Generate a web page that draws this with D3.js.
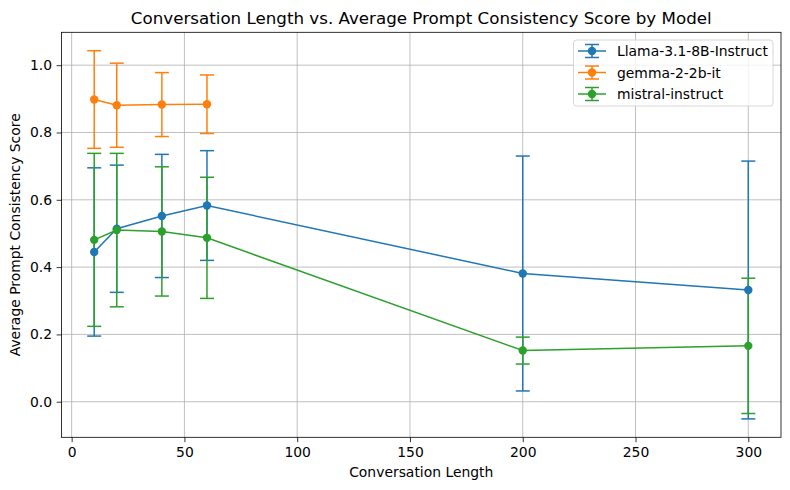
<!DOCTYPE html>
<html>
<head>
<meta charset="utf-8">
<script src="https://cdn.jsdelivr.net/npm/d3@7"></script>
<style>
body { margin: 0; background: #fff; }
text { font-family: "DejaVu Sans", sans-serif; }
</style>
</head>
<body>
<div class="static-image"></div>
<script>
// conversation lengths (x values)
var lengths = [10, 20, 40, 60, 200, 300];
var gemmaLengths = [10, 20, 40, 60];
// mean scores and error sizes
var llamaMean = [0.445, 0.514, 0.552, 0.583, 0.381, 0.332];
var llamaErr = [0.250, 0.189, 0.183, 0.163, 0.349, 0.383];
var gemmaMean = [0.898, 0.881, 0.883, 0.884];
var gemmaErr = [0.145, 0.125, 0.095, 0.087];
var mistralMean = [0.481, 0.510, 0.506, 0.487, 0.152, 0.166];
var mistralErr = [0.257, 0.228, 0.192, 0.180, 0.040, 0.201];
var modelNames = ["Llama-3.1-8B-Instruct", "gemma-2-2b-it", "mistral-instruct"];
var xTicks = [0, 50, 100, 150, 200, 250, 300];
var yTicks = [0.0, 0.2, 0.4, 0.6, 0.8, 1.0];

var width = 790;
var height = 490;
var padding = {
    "left": 61.5,
    "right": 9,
    "top": 32.3,
    "bottom": 52.7
};
var colors = ["#1f77b4", "#ff7f0e", "#2ca02c"];
var cap = 7;

var series = [
    {name: modelNames[0], x: lengths, y: llamaMean, e: llamaErr},
    {name: modelNames[1], x: gemmaLengths, y: gemmaMean, e: gemmaErr},
    {name: modelNames[2], x: lengths, y: mistralMean, e: mistralErr}
];

var lo = d3.min(series, function (s) { return d3.min(s.y, function (v, i) { return v - s.e[i]; }); });
var hi = d3.max(series, function (s) { return d3.max(s.y, function (v, i) { return v + s.e[i]; }); });
var xr = d3.extent(lengths);
var xm = (xr[1] - xr[0]) * 0.05;
var ym = (hi - lo) * 0.05;

var x = d3.scaleLinear()
    .domain([xr[0] - xm, xr[1] + xm])
    .range([padding.left, width - padding.right]);
var y = d3.scaleLinear()
    .domain([lo - ym, hi + ym])
    .range([height - padding.bottom, padding.top]);

var svg = d3.select(".static-image")
    .append("svg")
    .attr("width", width)
    .attr("height", height);

// grid
svg.append("g")
    .selectAll("line")
    .data(xTicks)
    .enter()
    .append("line")
    .attr("x1", function (d) { return x(d); })
    .attr("x2", function (d) { return x(d); })
    .attr("y1", padding.top)
    .attr("y2", height - padding.bottom)
    .attr("stroke", "#b0b0b0")
    .attr("stroke-width", 0.8);
svg.append("g")
    .selectAll("line")
    .data(yTicks)
    .enter()
    .append("line")
    .attr("x1", padding.left)
    .attr("x2", width - padding.right)
    .attr("y1", function (d) { return y(d); })
    .attr("y2", function (d) { return y(d); })
    .attr("stroke", "#b0b0b0")
    .attr("stroke-width", 0.8);

// error bars first, data lines above them
series.forEach(function (s, k) {
    var g = svg.append("g")
        .attr("stroke", colors[k])
        .attr("stroke-width", 1.5);
    var idx = d3.range(s.x.length);
    g.selectAll(".bar")
        .data(idx)
        .enter()
        .append("line")
        .attr("x1", function (i) { return x(s.x[i]); })
        .attr("x2", function (i) { return x(s.x[i]); })
        .attr("y1", function (i) { return y(s.y[i] - s.e[i]); })
        .attr("y2", function (i) { return y(s.y[i] + s.e[i]); });
    [-1, 1].forEach(function (sign) {
        g.selectAll(".cap" + sign)
            .data(idx)
            .enter()
            .append("line")
            .attr("x1", function (i) { return x(s.x[i]) - cap; })
            .attr("x2", function (i) { return x(s.x[i]) + cap; })
            .attr("y1", function (i) { return y(s.y[i] + sign * s.e[i]); })
            .attr("y2", function (i) { return y(s.y[i] + sign * s.e[i]); });
    });
});

series.forEach(function (s, k) {
    var line = d3.line()
        .x(function (i) { return x(s.x[i]); })
        .y(function (i) { return y(s.y[i]); });
    var idx = d3.range(s.x.length);
    svg.append("path")
        .attr("d", line(idx))
        .attr("fill", "none")
        .attr("stroke", colors[k])
        .attr("stroke-width", 1.5);
    svg.append("g")
        .selectAll("circle")
        .data(idx)
        .enter()
        .append("circle")
        .attr("cx", function (i) { return x(s.x[i]); })
        .attr("cy", function (i) { return y(s.y[i]); })
        .attr("r", 4.2)
        .attr("fill", colors[k]);
});

// axes
var xAxis = svg.append("g")
    .attr("transform", "translate(0," + (height - padding.bottom) + ")")
    .call(d3.axisBottom(x).tickValues(xTicks).tickSize(4.9).tickPadding(4.5).tickFormat(d3.format("d")));
var yAxis = svg.append("g")
    .attr("transform", "translate(" + padding.left + ",0)")
    .call(d3.axisLeft(y).tickValues(yTicks).tickSize(4.9).tickPadding(4.5).tickFormat(d3.format(".1f")));
[xAxis, yAxis].forEach(function (a) {
    a.select(".domain").remove();
    a.selectAll("text")
        .attr("font-family", "DejaVu Sans")
        .attr("font-size", 13.9)
        .attr("fill", "#000");
    a.selectAll("line").attr("stroke", "#000").attr("stroke-width", 0.8);
});

svg.append("rect")
    .attr("x", padding.left)
    .attr("y", padding.top)
    .attr("width", width - padding.left - padding.right)
    .attr("height", height - padding.top - padding.bottom)
    .attr("fill", "none")
    .attr("stroke", "#000")
    .attr("stroke-width", 0.8);

var cx = (padding.left + width - padding.right) / 2;
svg.append("text")
    .attr("x", cx)
    .attr("y", 24)
    .attr("text-anchor", "middle")
    .attr("font-size", 16.7)
    .text("Conversation Length vs. Average Prompt Consistency Score by Model");
svg.append("text")
    .attr("x", cx)
    .attr("y", 477)
    .attr("text-anchor", "middle")
    .attr("font-size", 13.9)
    .text("Conversation Length");
svg.append("text")
    .attr("transform", "translate(20," + ((padding.top + height - padding.bottom) / 2) + ") rotate(-90)")
    .attr("text-anchor", "middle")
    .attr("font-size", 13.9)
    .text("Average Prompt Consistency Score");

// legend
var legend = svg.append("g");
legend.append("rect")
    .attr("x", 573.5)
    .attr("y", 40)
    .attr("width", 199.5)
    .attr("height", 66)
    .attr("rx", 3)
    .attr("fill", "#fff")
    .attr("fill-opacity", 0.8)
    .attr("stroke", "#cccccc")
    .attr("stroke-width", 0.8);
var item = legend.selectAll(".item")
    .data(series)
    .enter()
    .append("g")
    .attr("transform", function (d, i) { return "translate(0," + (51 + i * 21.5) + ")"; });
item.append("line")
    .attr("x1", 578).attr("x2", 606).attr("y1", 0).attr("y2", 0)
    .attr("stroke", function (d, i) { return colors[i]; })
    .attr("stroke-width", 1.5);
item.append("line")
    .attr("x1", 592).attr("x2", 592).attr("y1", -6.5).attr("y2", 6.5)
    .attr("stroke", function (d, i) { return colors[i]; })
    .attr("stroke-width", 1.5);
[-6.5, 6.5].forEach(function (dy) {
    item.append("line")
        .attr("x1", 585).attr("x2", 599).attr("y1", dy).attr("y2", dy)
        .attr("stroke", function (d, i) { return colors[i]; })
        .attr("stroke-width", 1.5);
});
item.append("circle")
    .attr("cx", 592).attr("cy", 0).attr("r", 4.2)
    .attr("fill", function (d, i) { return colors[i]; });
item.append("text")
    .attr("x", 617)
    .attr("y", 5)
    .attr("font-size", 13.9)
    .text(function (d) { return d.name; });
</script>
</body>
</html>
